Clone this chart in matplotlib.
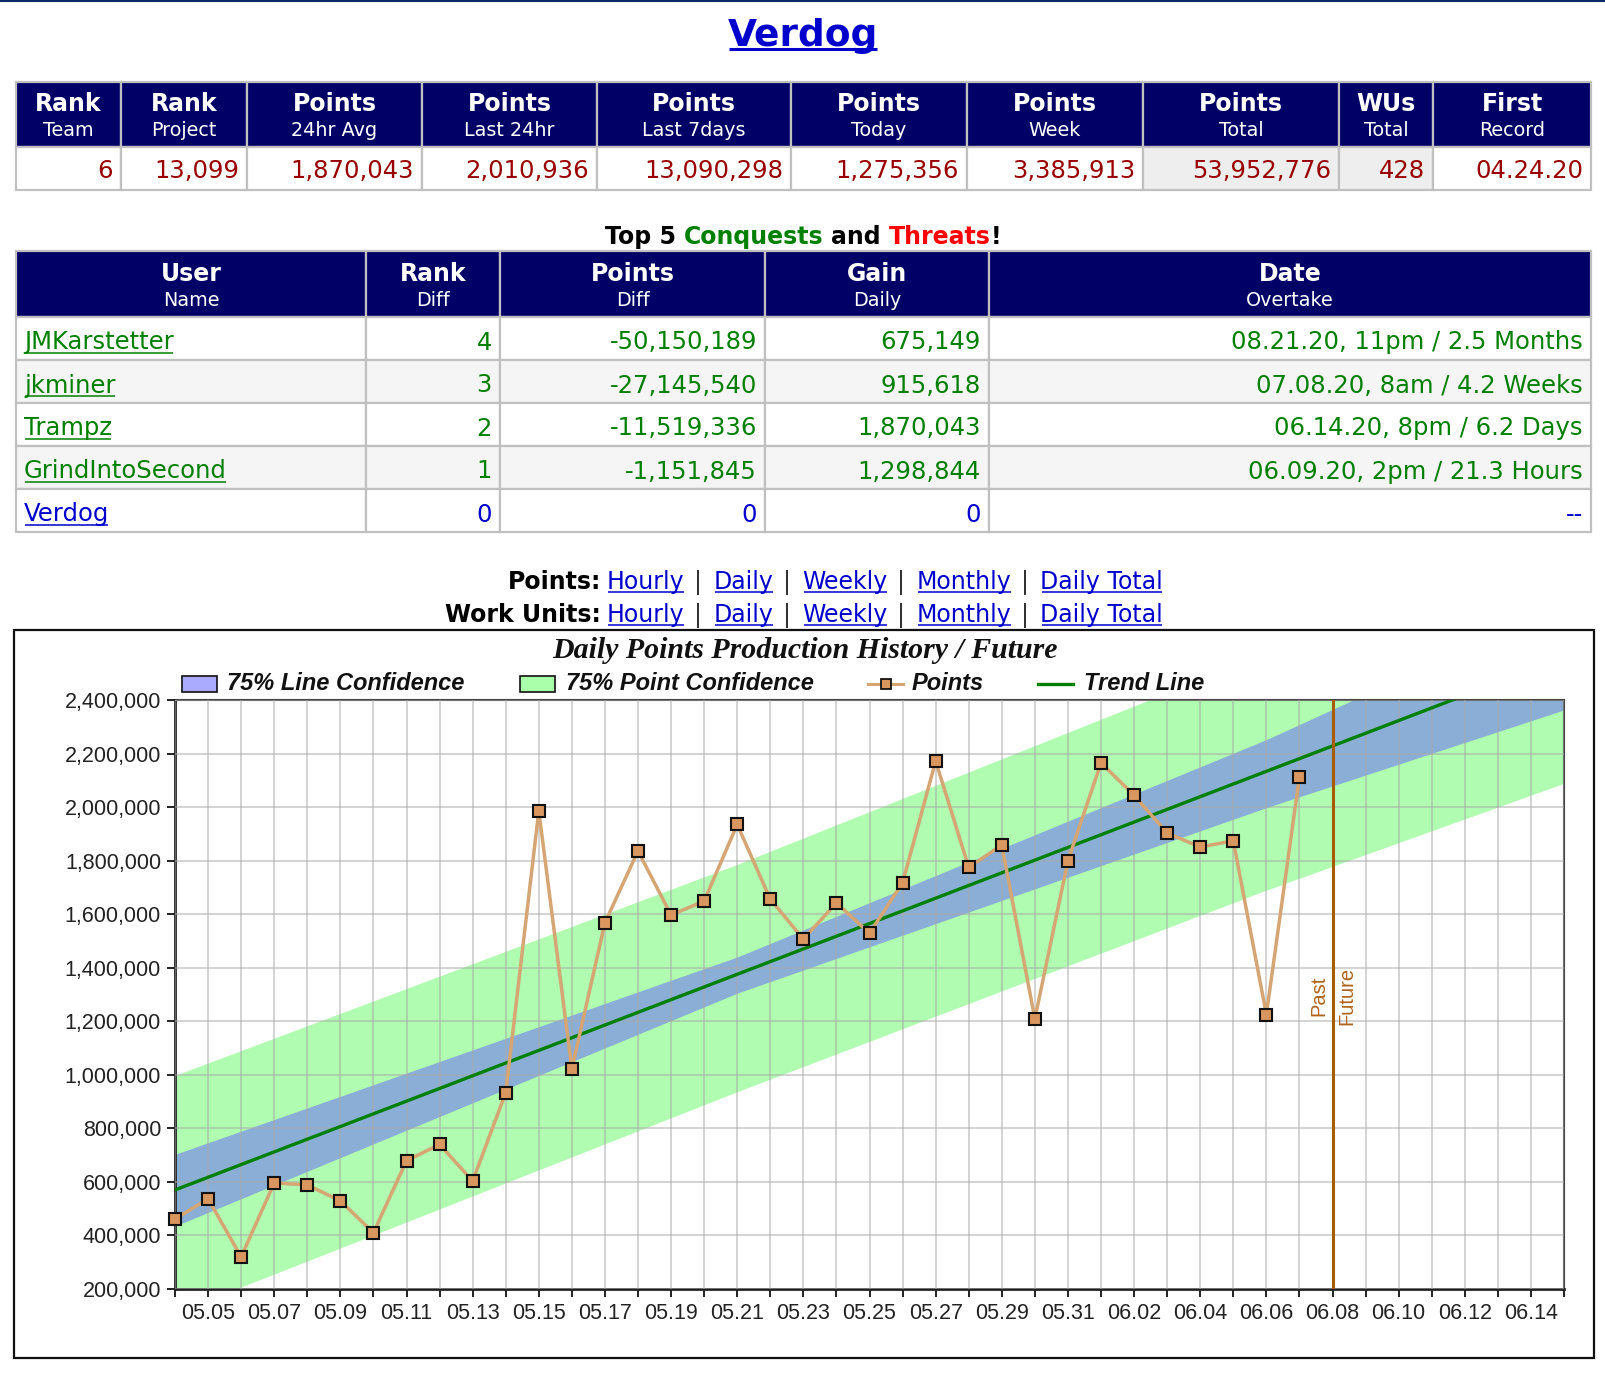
import numpy as np
import pandas as pd
import matplotlib
matplotlib.use('Agg')
import matplotlib.pyplot as plt
from matplotlib.patches import Rectangle

W, H = 1605, 1386  # output size in pixels

# ---------------- data ----------------
team = 'Verdog'

head1_top = ['Rank', 'Rank', 'Points', 'Points', 'Points', 'Points', 'Points', 'Points', 'WUs', 'First']
head1_sub = ['Team', 'Project', '24hr Avg', 'Last 24hr', 'Last 7days', 'Today', 'Week', 'Total', 'Total', 'Record']
row1 = ['6', '13,099', '1,870,043', '2,010,936', '13,090,298', '1,275,356', '3,385,913', '53,952,776', '428', '04.24.20']

head2_top = ['User', 'Rank', 'Points', 'Gain', 'Date']
head2_sub = ['Name', 'Diff', 'Diff', 'Daily', 'Overtake']
users = ['JMKarstetter', 'jkminer', 'Trampz', 'GrindIntoSecond', 'Verdog']
rank_diff = ['4', '3', '2', '1', '0']
points_diff = ['-50,150,189', '-27,145,540', '-11,519,336', '-1,151,845', '0']
gain_daily = ['675,149', '915,618', '1,870,043', '1,298,844', '0']
overtake = ['08.21.20, 11pm / 2.5 Months', '07.08.20, 8am / 4.2 Weeks',
            '06.14.20, 8pm / 6.2 Days', '06.09.20, 2pm / 21.3 Hours', '--']

link_names = ['Hourly', 'Daily', 'Weekly', 'Monthly', 'Daily Total']

# chart: x is days since 05.04
axis_dates = pd.date_range('2020-05-04', '2020-06-15')
point_days = list(range(35))  # 05.04 .. 06.07
points = [461000, 537000, 320000, 596000, 589000, 529000, 410000, 679000, 740000, 603000,
          933000, 1986000, 1022000, 1568000, 1836000, 1597000, 1649000, 1935000, 1656000, 1507000,
          1642000, 1529000, 1717000, 2172000, 1775000, 1858000, 1209000, 1800000, 2165000, 2044000,
          1903000, 1851000, 1874000, 1225000, 2113000]
trend_days = [0, 42]
trend_vals = [570000, 2560000]
band_days = [0, 17, 33, 42]
line_lo = [435000, 1305000, 1998000, 2363000]
line_hi = [703000, 1440000, 2252000, 2760000]
point_lo = [110000, 937000, 1690000, 2089000]
point_hi = [998000, 1786000, 2575000, 3030000]
now_day = 35  # 06.08

NAVY = '#000066'
GRID = '#c0c0c0'
RED = '#990000'
GREEN = '#008000'
BLUE = '#0000cc'

fig = plt.figure(figsize=(W / 100, H / 100), dpi=100)
bg = fig.add_axes([0, 0, 1, 1])
bg.set_xlim(0, W)
bg.set_ylim(H, 0)
bg.axis('off')
r = fig.canvas.get_renderer()


def txt(x, y, s, **kw):
    kw.setdefault('family', 'DejaVu Sans')
    return bg.text(x, y, s, **kw)


def underline(t, color, off=3, lw=1.1):
    bb = t.get_window_extent(r)
    y = t.get_position()[1] + off
    bg.plot([bb.x0 + 1, bb.x1 - 1], [y, y], color=color, lw=lw, solid_capstyle='butt')


def pieces(x, y, items, ha='left', size=17):
    # items: (text, color, weight, underline, gap after in px)
    arts = []
    cur = 0
    for s, c, wt, ul, gap in items:
        t = txt(0, y, s, color=c, fontweight=wt, fontsize=size, va='baseline')
        w = t.get_window_extent(r).width
        arts.append((t, cur, c, ul))
        cur += w + gap
    cur -= items[-1][4]
    x0 = x - cur / 2 if ha == 'center' else x
    for t, off, c, ul in arts:
        t.set_x(x0 + off)
        if ul:
            underline(t, c)


def cell(x0, x1, y0, y1, fc):
    bg.add_patch(Rectangle((x0, y0), x1 - x0, y1 - y0, fc=fc, ec=GRID, lw=1.6))


# top rule
bg.plot([0, W], [1, 1], color='#0a2a6a', lw=1.5)

# page title
t = txt(803, 46, team, ha='center', va='baseline', fontsize=27, fontweight='bold', color=BLUE)
underline(t, BLUE, off=3, lw=2.2)

# ---------------- table 1 ----------------
cols1 = [16, 121, 247, 422, 597, 791, 967, 1143, 1339, 1433, 1591]
rows1 = [82, 147, 190]
for i in range(len(head1_top)):
    x0, x1 = cols1[i], cols1[i + 1]
    cell(x0, x1, rows1[0], rows1[1], NAVY)
    cell(x0, x1, rows1[1], rows1[2], '#eeeeee' if i in (7, 8) else 'white')
    xc = (x0 + x1) / 2
    txt(xc, 104, head1_top[i], ha='center', va='center', fontsize=17, fontweight='bold', color='white')
    txt(xc, 131, head1_sub[i], ha='center', va='center', fontsize=13.8, color='white')
    txt(x1 - 8, 171, row1[i], ha='right', va='center', fontsize=17.5, color=RED)

# ---------------- table 2 ----------------
pieces(803, 244, [('Top 5', 'black', 'bold', False, 8), ('Conquests', GREEN, 'bold', False, 8),
                  ('and', 'black', 'bold', False, 8), ('Threats', '#ff0000', 'bold', False, 0),
                  ('!', 'black', 'bold', False, 0)], ha='center', size=17)

cols2 = [16, 366, 500, 765, 989, 1591]
rows2 = [251, 317, 360, 403, 446, 489, 532]
for i in range(5):
    x0, x1 = cols2[i], cols2[i + 1]
    cell(x0, x1, rows2[0], rows2[1], NAVY)
    xc = (x0 + x1) / 2
    txt(xc, 274, head2_top[i], ha='center', va='center', fontsize=17, fontweight='bold', color='white')
    txt(xc, 300, head2_sub[i], ha='center', va='center', fontsize=13.8, color='white')

for j in range(5):
    y0, y1 = rows2[j + 1], rows2[j + 2]
    fc = '#f5f5f5' if j % 2 else 'white'
    c = BLUE if users[j] == team else GREEN
    yb = (y0 + y1) / 2 + 11
    for i in range(5):
        cell(cols2[i], cols2[i + 1], y0, y1, fc)
    t = txt(24, yb, users[j], ha='left', va='baseline', fontsize=17.5, color=c)
    underline(t, c)
    for i, col in enumerate([rank_diff, points_diff, gain_daily, overtake]):
        txt(cols2[i + 2] - 8, yb, col[j], ha='right', va='baseline', fontsize=17.5, color=c)

# ---------------- link rows ----------------
for label, yb in [('Points:', 589), ('Work Units:', 622)]:
    txt(601, yb, label, ha='right', va='baseline', fontsize=17, fontweight='bold', color='black')
    items = []
    for k, nm in enumerate(link_names):
        items.append((nm, BLUE, 'normal', True, 9))
        if k < len(link_names) - 1:
            items.append(('|', '#333333', 'normal', False, 12))
    pieces(607, yb, items, size=17)

# ---------------- chart frame, title, legend ----------------
bg.add_patch(Rectangle((14, 630), 1580, 728, fill=False, ec='#111111', lw=1.6))
txt(805, 650, 'Daily Points Production History / Future', ha='center', va='center',
    family='Liberation Serif', fontsize=21.5, fontweight='bold', style='italic', color='#111111')

leg_kw = dict(va='center', family='Liberation Sans', fontsize=17, fontweight='bold',
              style='italic', color='#111111')
bg.add_patch(Rectangle((182, 676), 35, 16, fc='#aaaaff', ec='#111111', lw=1.2))
txt(227, 684, '75% Line Confidence', **leg_kw)
bg.add_patch(Rectangle((520, 676), 35, 16, fc='#aaffaa', ec='#111111', lw=1.2))
txt(566, 684, '75% Point Confidence', **leg_kw)
bg.plot([868, 903], [684, 684], color='#d5a573', lw=2.2)
bg.plot([885.5], [684], marker='s', ms=7, mfc='#d9965f', mec='#111111', mew=1.3)
txt(912, 684, 'Points', **leg_kw)
bg.plot([1038, 1073], [684, 684], color=GREEN, lw=2.4)
txt(1084, 684, 'Trend Line', **leg_kw)

# ---------------- chart ----------------
ax = fig.add_axes([175 / W, (H - 1289) / H, (1564 - 175) / W, (1289 - 700) / H])
ax.set_xlim(0, len(axis_dates) - 1)
ax.set_ylim(200000, 2400000)

ax.fill_between(band_days, point_lo, point_hi, color='#b0fcb0', lw=0, zorder=1)
ax.fill_between(band_days, line_lo, line_hi, color='#8aaed6', lw=0, zorder=1.5)
ax.set_axisbelow(False)
ax.grid(True, color='#a8a8a8', alpha=0.5, lw=1.4)

ax.plot(trend_days, trend_vals, color=GREEN, lw=2.4, zorder=3)
ax.axvline(now_day, color='#a85c00', lw=2.2, zorder=3.5)
ax.plot(point_days, points, color='#d5a573', lw=2.5, marker='s', ms=8.5, mfc='#d9965f',
        mec='#111111', mew=1.5, zorder=5, clip_on=False)

ax.text(now_day - 0.42, 1295000, 'Past', rotation=90, ha='center', va='center',
        family='Liberation Sans', fontsize=14.5, color='#b0641a')
ax.text(now_day + 0.43, 1295000, 'Future', rotation=90, ha='center', va='center',
        family='Liberation Sans', fontsize=14.5, color='#b0641a')

ax.set_xticks(range(len(axis_dates)))
ax.set_xticklabels([d.strftime('%m.%d') if i % 2 else '' for i, d in enumerate(axis_dates)])
yt = list(range(200000, 2400001, 200000))
ax.set_yticks(yt)
ax.set_yticklabels([f'{v:,}' for v in yt])
ax.tick_params(length=6, width=1.4, color='#222222', pad=4, labelsize=15.5, labelcolor='#222222')
for lab in ax.get_xticklabels() + ax.get_yticklabels():
    lab.set_family('Liberation Sans')

for side in ['left', 'bottom']:
    ax.spines[side].set_color('#222222')
    ax.spines[side].set_linewidth(2)
for side in ['top', 'right']:
    ax.spines[side].set_color('#444444')
    ax.spines[side].set_linewidth(1.5)

fig.savefig('out.png', dpi=100)
